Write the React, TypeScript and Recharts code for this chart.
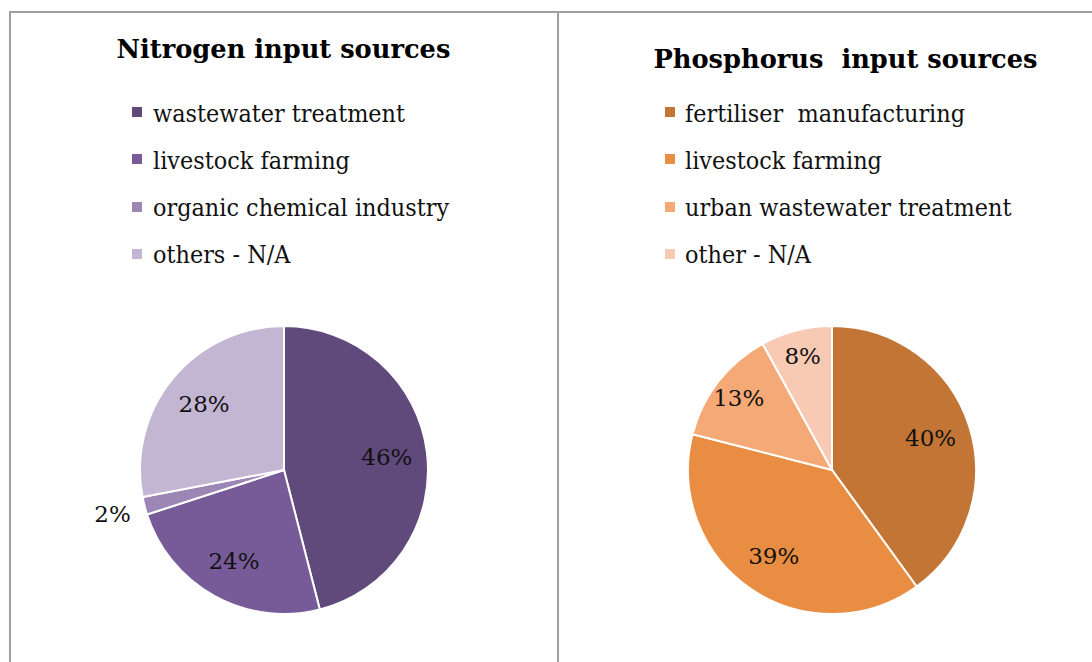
import * as React from "react"
import { PieChart, Pie, Cell } from "recharts"

// Nitrogen panel
const nitrogenSources = ["wastewater treatment", "livestock farming", "organic chemical industry", "others - N/A"]
const nitrogenShares = [46, 24, 2, 28]
const nitrogenColors = ["#604a7b", "#775b98", "#9b86b6", "#c2b6d2"]

// Phosphorus panel
const phosphorusSources = ["fertiliser  manufacturing", "livestock farming", "urban wastewater treatment", "other - N/A"]
const phosphorusShares = [40, 39, 13, 8]
const phosphorusColors = ["#c27535", "#e88d41", "#f4a976", "#f8cab4"]

const FONT = "'DejaVu Serif', serif"
const RAD = Math.PI / 180

const renderLabel = (props: any) => {
  const { cx, cy, midAngle, outerRadius, percent, value } = props
  let r = outerRadius * 0.72
  if (percent < 0.05) r = outerRadius + 33
  else if (percent < 0.15) r = outerRadius * 0.82
  const x = cx + r * Math.cos(-midAngle * RAD)
  const y = cy + r * Math.sin(-midAngle * RAD)
  return (
    <text x={x} y={y} textAnchor="middle" dominantBaseline="central" fill="#111" fontSize={23} fontFamily={FONT}>
      {`${value}%`}
    </text>
  )
}

interface PanelProps {
  title: string
  titleTop: number
  titleLeft: number
  names: string[]
  values: number[]
  colors: string[]
  left: number
  squareX: number
  textX: number
}

const Panel = ({ title, titleTop, titleLeft, names, values, colors, left, squareX, textX }: PanelProps) => {
  const data = names.map((name, i) => ({ name, value: values[i] }))
  return (
    <>
      <div
        style={{
          position: "absolute",
          left: titleLeft,
          width: 547,
          top: titleTop,
          textAlign: "center",
          fontFamily: FONT,
          fontWeight: "bold",
          fontSize: 25.7,
          lineHeight: "25.7px",
          whiteSpace: "pre",
          color: "#000",
        }}
      >
        {title}
      </div>
      {names.map((name, i) => (
        <div key={name} style={{ position: "absolute", left: 0, top: 102.5 + i * 47.3, height: 22 }}>
          <span
            style={{ position: "absolute", left: squareX, top: 4.5, width: 10, height: 10, background: colors[i] }}
          />
          <span
            style={{
              position: "absolute",
              left: textX,
              top: 0,
              fontFamily: FONT,
              fontSize: 22.4,
              lineHeight: "22px",
              whiteSpace: "pre",
              color: "#111",
              transform: "scaleY(1.1)",
              transformOrigin: "0 85%",
            }}
          >
            {name}
          </span>
        </div>
      ))}
      <div style={{ position: "absolute", left, top: 290 }}>
        <PieChart width={547} height={372}>
          <Pie
            data={data}
            dataKey="value"
            nameKey="name"
            cx={269}
            cy={175}
            outerRadius={144}
            startAngle={90}
            endAngle={-270}
            stroke="#ffffff"
            strokeWidth={2}
            label={renderLabel}
            labelLine={false}
            isAnimationActive={false}
          >
            {data.map((d, i) => (
              <Cell key={d.name} fill={colors[i]} />
            ))}
          </Pie>
        </PieChart>
      </div>
    </>
  )
}

export default function App() {
  return (
    <div style={{ position: "fixed", left: 0, top: 0, width: 1092, height: 662, background: "#fff", overflow: "hidden" }}>
      <style>{`.recharts-pie-sectors { filter: drop-shadow(0px 4px 3px rgba(0,0,0,0.35)); }`}</style>
      <div
        style={{
          position: "absolute",
          left: 9,
          top: 11,
          width: 546,
          height: 700,
          borderLeft: "2px solid #a0a0a0",
          borderTop: "2px solid #a0a0a0",
          borderRight: "2px solid #a0a0a0",
        }}
      />
      <div
        style={{ position: "absolute", left: 557, top: 11, width: 540, height: 700, borderTop: "2px solid #a0a0a0" }}
      />
      <Panel
        title="Nitrogen input sources"
        titleTop={37.3}
        titleLeft={10}
        names={nitrogenSources}
        values={nitrogenShares}
        colors={nitrogenColors}
        left={10}
        squareX={132}
        textX={153}
      />
      <Panel
        title="Phosphorus  input sources"
        titleTop={47.3}
        titleLeft={572}
        names={phosphorusSources}
        values={phosphorusShares}
        colors={phosphorusColors}
        left={558}
        squareX={665}
        textX={685}
      />
    </div>
  )
}
